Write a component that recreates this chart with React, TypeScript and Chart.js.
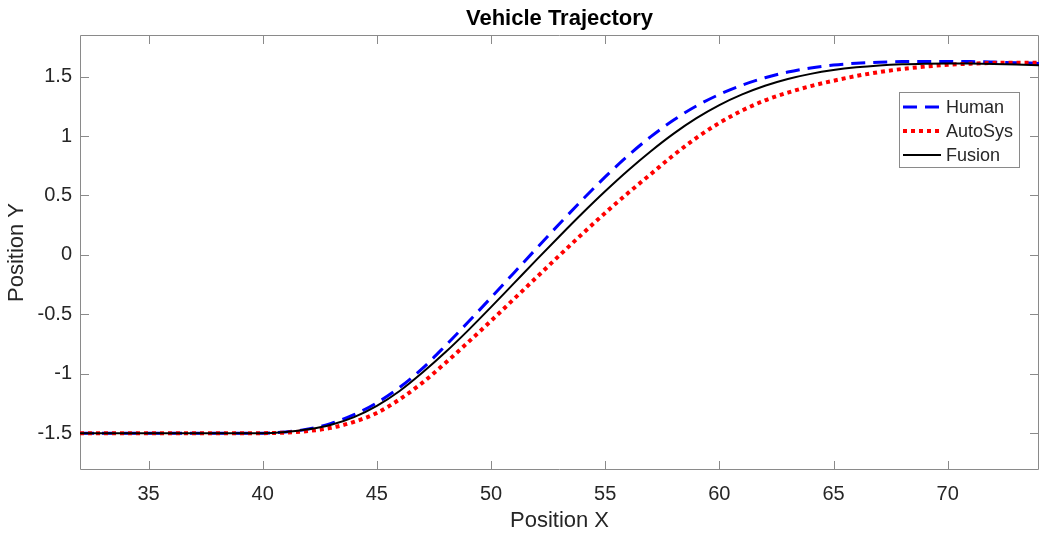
import React, { useEffect, useRef } from "react";
import { Chart, registerables } from "chart.js";

Chart.register(...registerables);

const chartTitle = "Vehicle Trajectory";
const xAxisTitle = "Position X";
const yAxisTitle = "Position Y";

const xValues = [
  32, 33, 34, 35, 36, 37, 38, 39, 40, 41, 42, 43, 44, 45, 46, 47, 48, 49, 50, 51, 52,
  53, 54, 55, 56, 57, 58, 59, 60, 61, 62, 63, 64, 65, 66, 67, 68, 69, 70, 71, 72, 73, 74,
];

const humanY = [
  -1.5, -1.5, -1.5, -1.5, -1.5, -1.5, -1.5, -1.5, -1.5, -1.49, -1.465, -1.418, -1.345,
  -1.245, -1.115, -0.955, -0.765, -0.565, -0.36, -0.152, 0.056, 0.262, 0.463, 0.656, 0.835,
  0.995, 1.135, 1.253, 1.35, 1.428, 1.49, 1.538, 1.573, 1.597, 1.612, 1.621, 1.626, 1.628,
  1.628, 1.626, 1.622, 1.617, 1.611,
];

const autoSysY = [
  -1.5, -1.5, -1.5, -1.5, -1.5, -1.5, -1.5, -1.5, -1.5, -1.495, -1.482, -1.455, -1.405,
  -1.33, -1.215, -1.075, -0.91, -0.735, -0.555, -0.372, -0.188, -0.004, 0.177, 0.353, 0.52,
  0.68, 0.84, 0.985, 1.11, 1.215, 1.3, 1.365, 1.42, 1.465, 1.505, 1.538, 1.564, 1.584,
  1.599, 1.609, 1.615, 1.617, 1.616,
];

const fusionY = [
  -1.5, -1.5, -1.5, -1.5, -1.5, -1.5, -1.5, -1.5, -1.5, -1.49, -1.468, -1.43, -1.365,
  -1.27, -1.145, -0.99, -0.82, -0.635, -0.44, -0.24, -0.04, 0.157, 0.35, 0.535, 0.71,
  0.872, 1.02, 1.15, 1.26, 1.35, 1.423, 1.48, 1.523, 1.555, 1.578, 1.594, 1.604, 1.609,
  1.611, 1.61, 1.607, 1.602, 1.596,
];

const seriesNames = ["Human", "AutoSys", "Fusion"];
const xTicks = [35, 40, 45, 50, 55, 60, 65, 70];
const yTicks = [-1.5, -1, -0.5, 0, 0.5, 1, 1.5];
const xRange = [32, 74];
const yRange = [-1.81, 1.85];

const FONT = "'Liberation Sans', Arial, Helvetica, sans-serif";
const FRAME = "#8a8a8a";
const TEXT = "#262626";

const framePlugin = {
  id: "matlabFrame",
  beforeDatasetsDraw(chart: any) {
    const { ctx, chartArea: a, scales } = chart;
    const tl = 9;
    ctx.save();
    ctx.strokeStyle = FRAME;
    ctx.lineWidth = 1;
    ctx.beginPath();
    ctx.rect(a.left + 0.5, a.top + 0.5, a.right - a.left - 1, a.bottom - a.top - 1);
    for (const v of xTicks) {
      const px = Math.round(scales.x.getPixelForValue(v)) + 0.5;
      ctx.moveTo(px, a.bottom);
      ctx.lineTo(px, a.bottom - tl);
      ctx.moveTo(px, a.top);
      ctx.lineTo(px, a.top + tl);
    }
    for (const v of yTicks) {
      const py = Math.round(scales.y.getPixelForValue(v)) + 0.5;
      ctx.moveTo(a.left, py);
      ctx.lineTo(a.left + tl, py);
      ctx.moveTo(a.right, py);
      ctx.lineTo(a.right - tl, py);
    }
    ctx.stroke();
    ctx.restore();
  },
  afterDatasetsDraw(chart: any) {
    const { ctx, chartArea: a } = chart;
    const boxW = 120;
    const boxH = 75;
    const bx = a.right - 20 - boxW;
    const by = a.top + 57;
    ctx.save();
    ctx.fillStyle = "#ffffff";
    ctx.fillRect(bx, by, boxW, boxH);
    ctx.strokeStyle = FRAME;
    ctx.lineWidth = 1;
    ctx.strokeRect(bx + 0.5, by + 0.5, boxW, boxH);
    ctx.font = `18px ${FONT}`;
    ctx.textBaseline = "middle";
    ctx.textAlign = "left";
    chart.data.datasets.forEach((ds: any, i: number) => {
      const y = by + 15 + i * 24;
      ctx.save();
      ctx.strokeStyle = ds.borderColor;
      ctx.lineWidth = ds.borderWidth;
      ctx.setLineDash(ds.borderDash || []);
      ctx.lineCap = "butt";
      ctx.beginPath();
      ctx.moveTo(bx + 4, y);
      ctx.lineTo(bx + 42, y);
      ctx.stroke();
      ctx.restore();
      ctx.fillStyle = TEXT;
      ctx.fillText(ds.label, bx + 47, y + 1);
    });
    ctx.restore();
  },
};

export default function App() {
  const canvasRef = useRef<HTMLCanvasElement | null>(null);

  useEffect(() => {
    if (!canvasRef.current) return;
    Chart.defaults.font.family = FONT;
    const mk = (ys: number[]) => xValues.map((x, i) => ({ x, y: ys[i] }));
    const chart = new Chart(canvasRef.current, {
      type: "line",
      data: {
        datasets: [
          {
            label: seriesNames[0],
            data: mk(humanY),
            borderColor: "#0000ff",
            borderWidth: 3,
            borderDash: [14, 8],
            pointRadius: 0,
            cubicInterpolationMode: "monotone",
            order: 3,
          },
          {
            label: seriesNames[1],
            data: mk(autoSysY),
            borderColor: "#ff0000",
            borderWidth: 4,
            borderDash: [4, 4],
            pointRadius: 0,
            cubicInterpolationMode: "monotone",
            order: 2,
          },
          {
            label: seriesNames[2],
            data: mk(fusionY),
            borderColor: "#000000",
            borderWidth: 2,
            pointRadius: 0,
            cubicInterpolationMode: "monotone",
            order: 1,
          },
        ],
      },
      options: {
        responsive: false,
        animation: false,
        devicePixelRatio: 1,
        layout: { padding: { left: 0, right: 5, top: 0, bottom: 0 } },
        plugins: {
          legend: { display: false },
          tooltip: { enabled: false },
          title: {
            display: true,
            text: chartTitle,
            fullSize: false,
            color: "#000000",
            font: { size: 22, weight: "bold", family: FONT },
            padding: { top: 6, bottom: 2.6 },
          },
        },
        scales: {
          x: {
            type: "linear",
            min: xRange[0],
            max: xRange[1],
            afterBuildTicks: (s: any) => {
              s.ticks = xTicks.map((v) => ({ value: v }));
            },
            afterFit: (s: any) => {
              s.height = 68;
            },
            grid: { display: false, drawTicks: false },
            border: { display: false },
            ticks: {
              color: TEXT,
              font: { size: 20 },
              padding: 12,
              maxRotation: 0,
              autoSkip: false,
              callback: (v: any) => String(v),
            },
            title: {
              display: true,
              text: xAxisTitle,
              color: TEXT,
              font: { size: 22 },
              padding: { top: 0, bottom: 4 },
            },
          },
          y: {
            type: "linear",
            min: yRange[0],
            max: yRange[1],
            afterBuildTicks: (s: any) => {
              s.ticks = yTicks.map((v) => ({ value: v }));
            },
            afterFit: (s: any) => {
              s.width = 80;
            },
            grid: { display: false, drawTicks: false },
            border: { display: false },
            ticks: {
              color: TEXT,
              font: { size: 20 },
              padding: 8,
              autoSkip: false,
              callback: (v: any) => String(v),
            },
            title: {
              display: true,
              text: yAxisTitle,
              color: TEXT,
              font: { size: 22 },
              padding: { top: 4, bottom: 0 },
            },
          },
        },
      } as any,
      plugins: [framePlugin],
    });
    return () => chart.destroy();
  }, []);

  return (
    <div style={{ position: "absolute", left: 0, top: 0, width: 1044, height: 538, background: "#fff" }}>
      <canvas ref={canvasRef} width={1044} height={538} style={{ display: "block" }} />
    </div>
  );
}
